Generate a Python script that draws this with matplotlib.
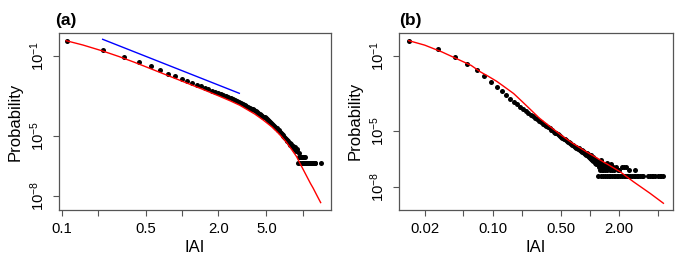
import numpy as np
import matplotlib.pyplot as plt
from matplotlib.ticker import FixedLocator, NullLocator

plt.rcParams['font.family'] = ['Liberation Sans', 'DejaVu Sans']
plt.rcParams['mathtext.fontset'] = 'custom'
plt.rcParams['mathtext.rm'] = 'Liberation Sans'
plt.rcParams['mathtext.it'] = 'Liberation Sans:italic'

# ---------------- panel (a) ----------------
# bins are multiples of a_bin; values are log10(probability)
a_bin = 0.11
a_logp = [-0.24, -0.70, -1.03, -1.30, -1.52, -1.72, -1.88, -2.02, -2.15, -2.26,
          -2.36, -2.44, -2.52, -2.59, -2.66, -2.73, -2.79, -2.85, -2.91, -2.96,
          -3.02, -3.07, -3.12, -3.17, -3.22, -3.27, -3.31, -3.36, -3.40, -3.45,
          -3.49, -3.54, -3.58, -3.63, -3.67, -3.72, -3.76, -3.80, -3.85, -3.89,
          -3.94, -3.98, -4.03, -4.07, -4.12, -4.16, -4.21, -4.25, -4.30, -4.34,
          -4.39, -4.44, -4.48, -4.53, -4.58, -4.62, -4.68, -4.72, -4.80, -4.86,
          -4.91, -4.96, -5.00, -5.05, -5.10, -5.17, -5.20, -5.27, -5.27, -5.35,
          -5.35, -5.45, -5.40, -5.50, -5.50, -5.57, -5.65, -5.57, -5.65, -5.75,
          -5.65, -5.75]
a_tail_x = [9.13, 9.24, 9.35, 9.46, 9.57, 9.68, 9.79, 9.90, 10.01, 10.12, 10.23,
            10.34, 10.45, 10.56, 10.67, 10.89, 11.00, 11.11, 11.33, 11.44, 11.66,
            11.77, 11.99, 12.21, 12.43, 12.65, 12.76, 14.30]
a_tail_logp = [-6.35, -6.05, -5.87, -6.05, -6.35, -6.05, -6.35, -6.05, -6.35, -6.05,
               -6.35, -6.05, -6.05, -6.35, -6.35, -6.35, -6.35, -6.35, -6.35, -6.35,
               -6.35, -6.35, -6.35, -6.35, -6.35, -6.35, -6.35, -6.35]
a_fit_x = [0.109, 0.15, 0.219, 0.3, 0.4, 0.5, 0.7, 1.0, 1.5, 2.0, 2.5, 3.0, 4.0,
           4.7, 5.57, 6.5, 7.3, 8.15, 8.9, 9.5, 10.5, 11.6, 12.2, 13.2, 14.1]
a_fit_logp = [-0.235, -0.45, -0.75, -1.03, -1.31, -1.54, -1.89, -2.26, -2.68, -2.99,
              -3.24, -3.46, -3.90, -4.20, -4.55, -4.95, -5.3, -5.7, -6.03, -6.37,
              -6.87, -7.37, -7.6, -8.0, -8.33]
a_ref_x = [0.219, 2.98]
a_ref_logp = [-0.165, -2.865]

# ---------------- panel (b) ----------------
b_bin = 0.0137
b_logp = [-0.18, -0.64, -1.04, -1.41, -1.77, -2.08, -2.37, -2.64, -2.87, -3.08,
          -3.28, -3.45, -3.58, -3.70, -3.81, -3.92, -4.02, -4.12, -4.21, -4.30,
          -4.38, -4.48, -4.54, -4.61, -4.68, -4.74, -4.80, -4.86, -4.92, -4.97,
          -5.03, -5.08, -5.13, -5.18, -5.23, -5.27, -5.31, -5.36, -5.40, -5.44,
          -5.48, -5.52, -5.56, -5.59, -5.63, -5.66, -5.70, -5.73, -5.77, -5.80,
          -5.86, -5.83, -5.92, -5.88, -5.97, -5.93, -6.02, -5.99, -6.08, -6.03,
          -6.12, -6.06, -6.18, -6.10, -6.22, -6.15, -6.28, -6.18, -6.32, -6.22,
          -6.38, -6.26, -6.43, -6.30, -6.48]
b_scat_x = [1.041, 1.055, 1.069, 1.082, 1.096, 1.110, 1.124, 1.137, 1.151, 1.165,
            1.178, 1.192, 1.206, 1.233, 1.247, 1.260, 1.274, 1.288, 1.315, 1.329,
            1.343, 1.370, 1.397, 1.425, 1.452, 1.479, 1.507, 1.548, 1.589, 1.630,
            1.671, 1.712, 1.781, 1.850, 1.918, 2.000, 2.110, 2.260, 2.330, 2.520,
            2.910]
b_scat_logp = [-6.43, -6.53, -6.38, -6.60, -6.48, -6.53, -6.68, -6.48, -6.60, -6.78,
               -6.60, -6.68, -6.78, -6.68, -6.90, -6.78, -7.08, -6.53, -6.90, -7.08,
               -6.78, -7.08, -6.90, -7.08, -6.78, -7.08, -6.68, -6.90, -7.08, -6.78,
               -7.08, -6.90, -7.08, -6.90, -7.08, -7.08, -6.90, -6.90, -6.90, -7.08,
               -7.08]
b_one_x = [1.22, 1.29, 1.36, 1.42, 1.49, 1.56, 1.62, 1.69, 1.75, 1.82, 1.89, 1.96,
           2.04, 2.12, 2.21, 2.30, 2.39, 2.48, 2.58, 2.69, 2.80, 2.91, 3.02, 3.14,
           3.26, 3.39, 3.53, 3.96, 4.12, 4.29, 4.46, 4.64, 5.01, 5.21, 5.42, 5.68]
b_one_logp = -7.38
b_fit_x = [0.0137, 0.02, 0.03, 0.045, 0.06, 0.075, 0.09, 0.11, 0.13, 0.164, 0.2,
           0.244, 0.3, 0.39, 0.5, 0.65, 0.857, 1.28, 2.04, 2.79, 4.14, 5.68]
b_fit_logp = [-0.18, -0.42, -0.78, -1.2, -1.5, -1.85, -2.08, -2.35, -2.62, -3.0,
              -3.42, -3.85, -4.3, -4.77, -5.2, -5.62, -6.01, -6.55, -7.17, -7.7,
              -8.32, -8.85]

W, H = 685, 266
fig = plt.figure(figsize=(W / 100, H / 100), dpi=100)
MS = 3.6


def setup(ax, xlim, ylim, xticks, xlabels):
    ax.set_xscale('log')
    ax.set_yscale('log')
    ax.set_xlim(*xlim)
    ax.set_ylim(*ylim)
    ax.xaxis.set_major_locator(FixedLocator(xticks))
    ax.set_xticklabels(xlabels)
    ax.xaxis.set_minor_locator(NullLocator())
    ax.yaxis.set_major_locator(FixedLocator([1e-1, 1e-5, 1e-8]))
    ax.set_yticklabels([r'$10^{-1}$', r'$10^{-5}$', r'$10^{-8}$'])
    ax.yaxis.set_minor_locator(NullLocator())
    ax.tick_params(length=4.5, width=0.8, color='#555555', labelsize=10.7,
                   pad=4)
    plt.setp(ax.get_yticklabels(), rotation=90, va='center')
    for s in ax.spines.values():
        s.set_color('#555555')
        s.set_linewidth(0.9)
    ax.set_xlabel('IAI', fontsize=12, labelpad=3)
    ax.set_ylabel('Probability', fontsize=12, labelpad=4)


# panel (a)
ax1 = fig.add_axes([59 / W, 1 - 210 / H, 272 / W, 177 / H])
ax_x = a_bin * np.arange(1, len(a_logp) + 1)
ax1.plot(ax_x, 10 ** np.array(a_logp), 'o', color='black', ms=MS, mew=0)
ax1.plot(a_tail_x, 10 ** np.array(a_tail_logp), 'o', color='black', ms=MS, mew=0)
ax1.plot(a_ref_x, 10 ** np.array(a_ref_logp), color='blue', lw=1.0)
ax1.plot(a_fit_x, 10 ** np.array(a_fit_logp), color='red', lw=1.0)
setup(ax1, (0.0951, 17.18), (10 ** -8.7, 10 ** 0.15),
      [0.1, 0.2, 0.5, 1.0, 2.0, 5.0, 10.0],
      ['0.1', '', '0.5', '', '2.0', '5.0', ''])
fig.text(55 / W, 1 - 25 / H, '(a)', fontsize=12.5, fontweight='bold',
         va='baseline', ha='left')

# panel (b)
ax2 = fig.add_axes([398.7 / W, 1 - 210 / H, 274.6 / W, 177.3 / H])
bx = b_bin * np.arange(1, len(b_logp) + 1)
ax2.plot(bx, 10 ** np.array(b_logp), 'o', color='black', ms=MS, mew=0)
ax2.plot(b_scat_x, 10 ** np.array(b_scat_logp), 'o', color='black', ms=MS, mew=0)
ax2.plot(b_one_x, [10 ** b_one_logp] * len(b_one_x), 'o', color='black', ms=MS, mew=0)
ax2.plot(b_fit_x, 10 ** np.array(b_fit_logp), color='red', lw=1.0)
setup(ax2, (0.01081, 7.18), (10 ** -9.21, 10 ** 0.243),
      [0.02, 0.05, 0.1, 0.2, 0.5, 1.0, 2.0, 5.0],
      ['0.02', '', '0.10', '', '0.50', '', '2.00', ''])
fig.text(399 / W, 1 - 25 / H, '(b)', fontsize=12.5, fontweight='bold',
         va='baseline', ha='left')

fig.savefig('out.png', dpi=100)
